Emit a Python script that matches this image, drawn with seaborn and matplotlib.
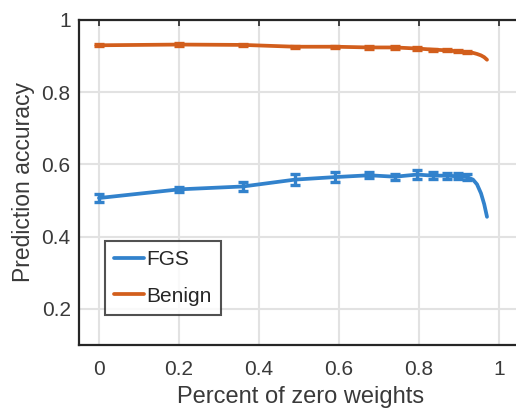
import numpy as np
import pandas as pd
import matplotlib
matplotlib.use("Agg")
import matplotlib.pyplot as plt
import seaborn as sns
from matplotlib.lines import Line2D

# Data
x_pts = [0.0, 0.2, 0.36, 0.49, 0.59, 0.675, 0.74, 0.795, 0.835, 0.87, 0.897, 0.92]
fgs_pts = [0.507, 0.531, 0.539, 0.558, 0.565, 0.570, 0.566, 0.572, 0.569, 0.569, 0.567, 0.565]
fgs_err = [0.010, 0.006, 0.012, 0.015, 0.015, 0.008, 0.008, 0.012, 0.010, 0.008, 0.008, 0.008]
benign_pts = [0.930, 0.932, 0.931, 0.926, 0.926, 0.924, 0.924, 0.921, 0.918, 0.916, 0.913, 0.911]
benign_err = [0.003, 0.003, 0.003, 0.003, 0.003, 0.003, 0.003, 0.003, 0.003, 0.003, 0.003, 0.003]

x_tail = [0.935, 0.945, 0.955, 0.963, 0.97]
fgs_tail = [0.558, 0.545, 0.520, 0.490, 0.455]
benign_tail = [0.909, 0.906, 0.902, 0.897, 0.890]

series_names = ["FGS", "Benign"]
x_ticks = [0, 0.2, 0.4, 0.6, 0.8, 1]
x_ticklabels = ["0", "0.2", "0.4", "0.6", "0.8", "1"]
y_ticks = [0.2, 0.4, 0.6, 0.8, 1]
y_ticklabels = ["0.2", "0.4", "0.6", "0.8", "1"]

colors = {"FGS": "#3282cc", "Benign": "#d25e1c"}

sns.set_style("white")
plt.rcParams["font.family"] = ["Liberation Sans", "DejaVu Sans"]

x_all = x_pts + x_tail
df = pd.DataFrame({
    "x": x_all * 2,
    "acc": fgs_pts + fgs_tail + benign_pts + benign_tail,
    "series": ["FGS"] * len(x_all) + ["Benign"] * len(x_all),
})

fig = plt.figure(figsize=(5.16, 4.12), dpi=100)
ax = fig.add_axes([79 / 516, 1 - 345 / 412, 444 / 516, 325 / 412])

sns.lineplot(data=df, x="x", y="acc", hue="series", hue_order=series_names,
             palette=colors, linewidth=2.7, ax=ax, legend=False, sort=True,
             zorder=3)
ax.errorbar(x_pts, fgs_pts, yerr=fgs_err, fmt="none", ecolor=colors["FGS"],
            elinewidth=2.4, capsize=3.5, capthick=2.4, zorder=4)
ax.errorbar(x_pts, benign_pts, yerr=benign_err, fmt="none", ecolor=colors["Benign"],
            elinewidth=2.4, capsize=3.5, capthick=2.4, zorder=4)

ax.set_xlim(-0.05, 1.06)
ax.set_ylim(0.1, 1.0)
ax.set_xticks(x_ticks)
ax.set_xticklabels(x_ticklabels)
ax.set_yticks(y_ticks)
ax.set_yticklabels(y_ticklabels)
ax.grid(True, color="#e2e2e2", linewidth=1.5)
ax.set_axisbelow(True)
for s in ax.spines.values():
    s.set_color("#262626")
    s.set_linewidth(1.6)
ax.spines["right"].set_visible(False)
ax.tick_params(direction="in", length=4, width=1.2, color="#262626",
               labelsize=15, labelcolor="#3a3a3a", top=True, right=False)
ax.tick_params(axis="x", pad=11)
ax.tick_params(axis="y", pad=6)
ax.set_xlabel("Percent of zero weights", fontsize=17, color="#3a3a3a", labelpad=5)
ax.set_ylabel("Prediction accuracy", fontsize=16.5, color="#3a3a3a", labelpad=5)

handles = [Line2D([], [], color=colors[n], linewidth=2.7) for n in series_names]
leg = ax.legend(handles, series_names, loc="lower left", bbox_to_anchor=(0.058, 0.092),
                fontsize=15, frameon=True, fancybox=False, edgecolor="#262626",
                handlelength=1.45, handletextpad=0.1, borderpad=0.45,
                labelspacing=0.85, borderaxespad=0)
leg.get_frame().set_linewidth(1.5)
for t in leg.get_texts():
    t.set_color("#262626")

fig.savefig("out.png", dpi=100)
